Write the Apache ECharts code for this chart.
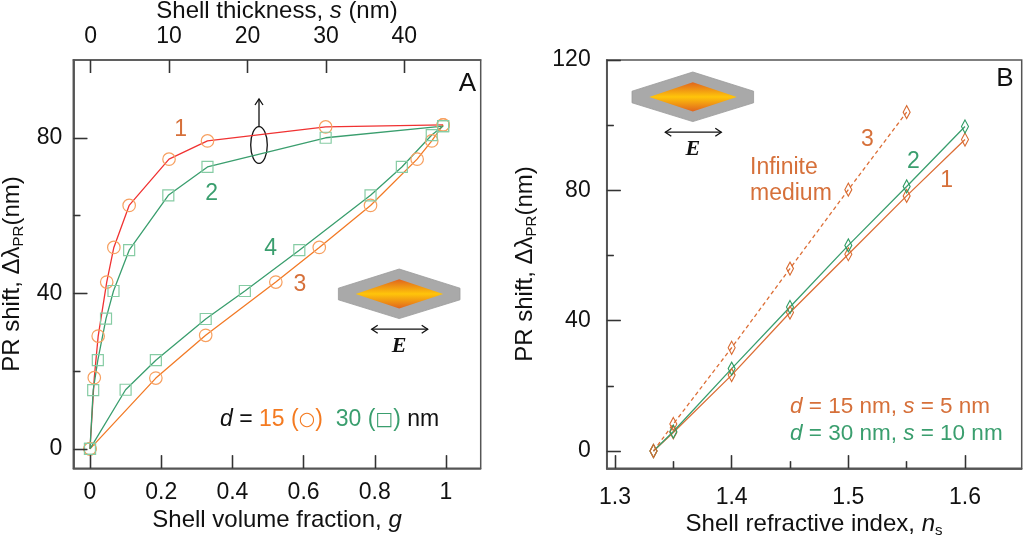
<!DOCTYPE html>
<html>
<head>
<meta charset="UTF-8">
<title>PR shift</title>
<script src="https://cdn.jsdelivr.net/npm/echarts@6/dist/echarts.min.js"></script>
<style>
  * {margin: 0; padding: 0;}
  body {background: #fff;}
  #chart {width: 1024px; height: 542px;}
</style>
</head>
<body>
<div id="chart"></div>
<script>
// ---- panel A : shift vs shell volume fraction g ----
var gCurve1 = [0, 0.012, 0.023, 0.047, 0.067, 0.11, 0.222, 0.33, 0.662, 0.992];
var shiftCurve1 = [0, 18.3, 29.0, 42.9, 51.8, 62.6, 74.5, 79.2, 82.8, 83.3];
var gCurve2 = [0, 0.009, 0.022, 0.045, 0.066, 0.11, 0.22, 0.33, 0.662, 0.992];
var shiftCurve2 = [0, 15.1, 22.8, 33.5, 40.6, 51.1, 65.2, 72.5, 80.0, 83.0];
var gCurve3 = [0, 0.185, 0.325, 0.522, 0.644, 0.788, 0.919, 0.96, 0.992];
var shiftCurve3 = [0, 18.2, 29.2, 42.9, 51.8, 62.6, 74.5, 79.2, 83.3];
var gCurve4 = [0, 0.10, 0.185, 0.325, 0.435, 0.588, 0.788, 0.876, 0.96, 0.992];
var shiftCurve4 = [0, 15.2, 22.8, 33.4, 40.6, 51.1, 65.2, 72.5, 80.7, 83.0];

var gTicks = [0, 0.2, 0.4, 0.6, 0.8, 1];
var sTicks = [0, 10, 20, 30, 40];
var yTicksA = [0, 40, 80];
var yMinorA = [20, 60];

// ---- panel B : shift vs shell refractive index ----
var nShell = [1.333, 1.35, 1.4, 1.45, 1.5, 1.55, 1.6];
var shiftB1 = [0, 5.7, 23.3, 42.5, 60.4, 78.3, 95.6];
var shiftB2 = [0, 6.0, 25.3, 44.2, 63.1, 81.2, 99.6];
var nInfinite = [1.333, 1.35, 1.4, 1.45, 1.5, 1.55];
var shiftB3 = [0, 8.3, 31.7, 56.0, 80.2, 104.0];

var nTicks = [1.3, 1.4, 1.5, 1.6];
var nMinor = [1.35, 1.45, 1.55];
var yTicksB = [0, 40, 80, 120];
var yMinorB = [20, 60, 100];

var FONT = 'Liberation Sans';
var ORANGE = '#f7a060';
var ORANGE_LINE = '#f27a26';
var RED = '#f03232';
var GREEN = '#3a9e6e';
var GREEN_MK = '#86cca4';
var LABEL_OR = '#d6703a';

// axis ranges and plot boxes
var gMin = -0.0469, gMax = 1.0975, sMin = -2.22, sMax = 49.74, yAMin = -5, yAMax = 100;
var nMin = 1.2929, nMax = 1.6486, yBMin = -5.3, yBMax = 120;
var boxA = {left: 73.3, top: 60, width: 407.4, height: 408.3};
var boxB = {left: 606.7, top: 60, width: 415, height: 408.3};

function zip(xs, ys) {
  return xs.map(function (x, i) { return [x, ys[i]]; });
}

function valueAxis(o) {
  return {
    type: 'value',
    gridIndex: o.grid,
    position: o.pos,
    min: o.min,
    max: o.max,
    z: 8,
    axisLine: {show: true, onZero: false, lineStyle: {color: '#555', width: 1.5}},
    splitLine: {show: false},
    axisTick: {
      show: true, inside: true, length: o.len,
      customValues: o.ticks,
      lineStyle: {color: '#333', width: 1.3}
    },
    axisLabel: o.labels ? {
      show: true, customValues: o.ticks, margin: o.margin,
      color: '#111', fontFamily: FONT, fontSize: 23
    } : {show: false}
  };
}

// tick segments as mark lines (length given in px, converted to data units)
function xTicks(values, yMin, yMax, boxH, px) {
  var to = yMin + px * (yMax - yMin) / boxH;
  return values.map(function (v) { return [{coord: [v, yMin]}, {coord: [v, to]}]; });
}
function xTopTicks(values, yMin, yMax, boxH, px) {
  var to = yMax - px * (yMax - yMin) / boxH;
  return values.map(function (v) { return [{coord: [v, yMax]}, {coord: [v, to]}]; });
}
function yTicks(values, xMin, xMax, boxW, px) {
  var to = xMin + px * (xMax - xMin) / boxW;
  return values.map(function (v) { return [{coord: [xMin, v]}, {coord: [to, v]}]; });
}
function tickSeries(xi, yi, lines) {
  return {
    type: 'line', data: [], xAxisIndex: xi, yAxisIndex: yi, silent: true,
    markLine: {
      silent: true, symbol: ['none', 'none'], label: {show: false}, animation: false,
      lineStyle: {color: '#333', width: 1.3, type: 'solid'},
      emphasis: {disabled: true},
      data: lines
    }
  };
}

function arrowHead(x, y, dir) {
  // small open V head, dir: 'l', 'r', 'u'
  var p;
  if (dir === 'l') p = [[x + 6, y - 4], [x, y], [x + 6, y + 4]];
  else if (dir === 'r') p = [[x - 6, y - 4], [x, y], [x - 6, y + 4]];
  else p = [[x - 4, y + 6], [x, y], [x + 4, y + 6]];
  return {type: 'polyline', shape: {points: p}, style: {stroke: '#111', lineWidth: 1.3, fill: null}};
}

function particle(cx, cy) {
  var gold = new echarts.graphic.LinearGradient(0, 0, 0, 1, [
    {offset: 0, color: '#e0641e'},
    {offset: 0.5, color: '#ffc50a'},
    {offset: 1, color: '#e0641e'}
  ]);
  return [
    {type: 'polygon', shape: {points: [
      [cx - 60.8, cy - 5.8], [cx, cy - 25], [cx + 60.8, cy - 5.8],
      [cx + 60.8, cy + 5.8], [cx, cy + 24.6], [cx - 60.8, cy + 5.8]]},
      style: {fill: '#a9a9a9', stroke: '#9a9a9a', lineWidth: 0.8}},
    {type: 'polygon', shape: {points: [
      [cx - 43.5, cy], [cx, cy - 14.8], [cx + 44, cy], [cx, cy + 14.6]]},
      style: {fill: gold}},
    {type: 'line', shape: {x1: cx - 27.5, y1: cy + 35.2, x2: cx + 28.5, y2: cy + 35.2},
      style: {stroke: '#111', lineWidth: 1.3}},
    arrowHead(cx - 27.5, cy + 35.2, 'l'),
    arrowHead(cx + 28.5, cy + 35.2, 'r'),
    {type: 'text', style: {x: cx, y: cy + 52.5, text: 'E', fill: '#111',
      font: 'italic bold 22px "Liberation Serif"', textAlign: 'center', textVerticalAlign: 'middle'}}
  ];
}

function label(x, y, text, color, size) {
  return {type: 'text', style: {x: x, y: y, text: text, fill: color,
    font: (size || 23) + 'px "' + FONT + '"', textAlign: 'center', textVerticalAlign: 'middle'}};
}

function richLabel(x, y, text, baseColor, size) {
  var fs = size || 23;
  return {type: 'text', style: {x: x, y: y, text: text, fill: baseColor,
    font: fs + 'px "' + FONT + '"', textAlign: 'left', textVerticalAlign: 'middle',
    rich: {
      i: {fontStyle: 'italic', fontFamily: FONT, fontSize: fs, fill: baseColor},
      k: {fontFamily: FONT, fontSize: fs, fill: '#111'},
      ki: {fontStyle: 'italic', fontFamily: FONT, fontSize: fs, fill: '#111'},
      o: {fontFamily: FONT, fontSize: fs, fill: '#f47a20'},
      os: {fontFamily: 'DejaVu Sans', fontSize: 19, fill: '#f47a20'},
      g: {fontFamily: FONT, fontSize: fs, fill: GREEN},
      gs: {fontFamily: 'DejaVu Sans', fontSize: 19, fill: GREEN}
    }}};
}

// axis titles
function axisTitle(x, y, text, rot) {
  return {type: 'text', x: x, y: y, rotation: rot || 0,
    style: {x: 0, y: 0, text: text, fill: '#111', font: '24px "' + FONT + '"',
      textAlign: 'center', textVerticalAlign: 'middle',
      rich: {
        m: {fontFamily: FONT, fontSize: 24, lineHeight: 28, fill: '#111'},
        i: {fontFamily: FONT, fontStyle: 'italic', fontSize: 24, lineHeight: 28, fill: '#111'},
        s: {fontFamily: FONT, fontSize: 15, lineHeight: 15, verticalAlign: 'bottom', fill: '#111'}
      }}};
}

function lineSeries(data, xi, yi, lineColor, lineType, symbol, size, mkColor) {
  return {
    type: 'line', data: data, xAxisIndex: xi, yAxisIndex: yi,
    symbol: symbol, symbolSize: size, showAllSymbol: true,
    lineStyle: {color: lineColor, width: 1.3, type: lineType},
    itemStyle: {color: 'rgba(0,0,0,0)', borderColor: mkColor, borderWidth: 1.2}
  };
}

var chart = echarts.init(document.getElementById('chart'));

var graphics = []
  .concat(particle(399.2, 294))
  .concat(particle(692.8, 97))
  .concat([
    {type: 'ellipse', shape: {cx: 259, cy: 145, rx: 8.3, ry: 18.3},
      style: {stroke: '#111', lineWidth: 1.3, fill: null}},
    {type: 'line', shape: {x1: 259, y1: 126.7, x2: 259, y2: 99},
      style: {stroke: '#111', lineWidth: 1.3}},
    arrowHead(259, 99, 'u'),
    label(180.7, 130, '1', LABEL_OR),
    label(211.7, 194, '2', GREEN),
    label(270.7, 249, '4', GREEN),
    label(300, 285, '3', LABEL_OR),
    label(467.3, 84, 'A', '#111', 26),
    label(867.3, 139.3, '3', LABEL_OR),
    label(913.3, 161.7, '2', GREEN),
    label(946.7, 180.7, '1', LABEL_OR),
    label(1005, 79, 'B', '#111', 26),
    richLabel(750, 167.3, 'Infinite', LABEL_OR),
    richLabel(750, 194, 'medium', LABEL_OR),
    richLabel(220, 420, '{ki|d}{k| = }{o|15 (}{os|○}{o|)}  {g|30 (}{gs|□}{g|)} {k|nm}', '#111'),
    richLabel(790, 406.7, '{i|d} = 15 nm, {i|s} = 5 nm', LABEL_OR, 22.5),
    richLabel(790, 433.3, '{i|d} = 30 nm, {i|s} = 10 nm', GREEN, 22.5),
    axisTitle(277, 520, '{m|Shell volume fraction, }{i|g}'),
    axisTitle(277, 11, '{m|Shell thickness, }{i|s}{m| (nm)}'),
    axisTitle(814, 524, '{m|Shell refractive index, }{i|n}{s|s}'),
    axisTitle(12, 274, '{m|PR shift, Δλ}{s|PR}{m|(nm)}', Math.PI / 2),
    axisTitle(525, 264, '{m|PR shift, Δλ}{s|PR}{m|(nm)}', Math.PI / 2)
  ]);

var option = {
  animation: false,
  grid: [
    {left: boxA.left, top: boxA.top, width: boxA.width, height: boxA.height, show: true,
      outerBoundsMode: 'none', borderColor: '#555', borderWidth: 1.5},
    {left: boxB.left, top: boxB.top, width: boxB.width, height: boxB.height, show: true,
      outerBoundsMode: 'none', borderColor: '#555', borderWidth: 1.5}
  ],
  xAxis: [
    valueAxis({grid: 0, pos: 'bottom', min: gMin, max: gMax, len: 13, ticks: gTicks, labels: true, margin: 13}),
    valueAxis({grid: 0, pos: 'top', min: sMin, max: sMax, len: 13, ticks: sTicks, labels: true, margin: 12}),
    valueAxis({grid: 1, pos: 'bottom', min: nMin, max: nMax, len: 13, ticks: nTicks, labels: true, margin: 18}),
    valueAxis({grid: 1, pos: 'bottom', min: nMin, max: nMax, len: 7, ticks: nMinor, labels: false})
  ],
  yAxis: [
    valueAxis({grid: 0, pos: 'left', min: yAMin, max: yAMax, len: 14, ticks: yTicksA, labels: true, margin: 11}),
    valueAxis({grid: 0, pos: 'left', min: yAMin, max: yAMax, len: 7, ticks: yMinorA, labels: false}),
    valueAxis({grid: 1, pos: 'left', min: yBMin, max: yBMax, len: 14, ticks: yTicksB, labels: true, margin: 16}),
    valueAxis({grid: 1, pos: 'left', min: yBMin, max: yBMax, len: 7, ticks: yMinorB, labels: false})
  ],
  series: [
    lineSeries(zip(gCurve1, shiftCurve1), 0, 0, RED, 'solid', 'circle', 12.5, ORANGE),
    lineSeries(zip(gCurve2, shiftCurve2), 0, 0, GREEN, 'solid', 'rect', 11, GREEN_MK),
    lineSeries(zip(gCurve3, shiftCurve3), 0, 0, ORANGE_LINE, 'solid', 'circle', 12.5, ORANGE),
    lineSeries(zip(gCurve4, shiftCurve4), 0, 0, GREEN, 'solid', 'rect', 11, GREEN_MK),
    lineSeries(zip(nShell, shiftB1), 2, 2, '#dc6e36', 'solid', 'diamond', [7, 13], '#d86a30'),
    lineSeries(zip(nShell, shiftB2), 2, 2, GREEN, 'solid', 'diamond', [7, 13], '#2e9a62'),
    lineSeries(zip(nInfinite, shiftB3), 2, 2, '#dc6e36', [4, 3], 'diamond', [7, 13], '#d86a30'),
    tickSeries(0, 0, []
      .concat(xTicks(gTicks, yAMin, yAMax, boxA.height, 13))
      .concat(yTicks(yTicksA, gMin, gMax, boxA.width, 14))
      .concat(yTicks(yMinorA, gMin, gMax, boxA.width, 7))),
    tickSeries(1, 0, xTopTicks(sTicks, yAMin, yAMax, boxA.height, 13)),
    tickSeries(2, 2, []
      .concat(xTicks(nTicks, yBMin, yBMax, boxB.height, 13))
      .concat(xTicks(nMinor, yBMin, yBMax, boxB.height, 7))
      .concat(yTicks(yTicksB, nMin, nMax, boxB.width, 14))
      .concat(yTicks(yMinorB, nMin, nMax, boxB.width, 7)))
  ],
  graphic: graphics
};

chart.setOption(option);
</script>
</body>
</html>
